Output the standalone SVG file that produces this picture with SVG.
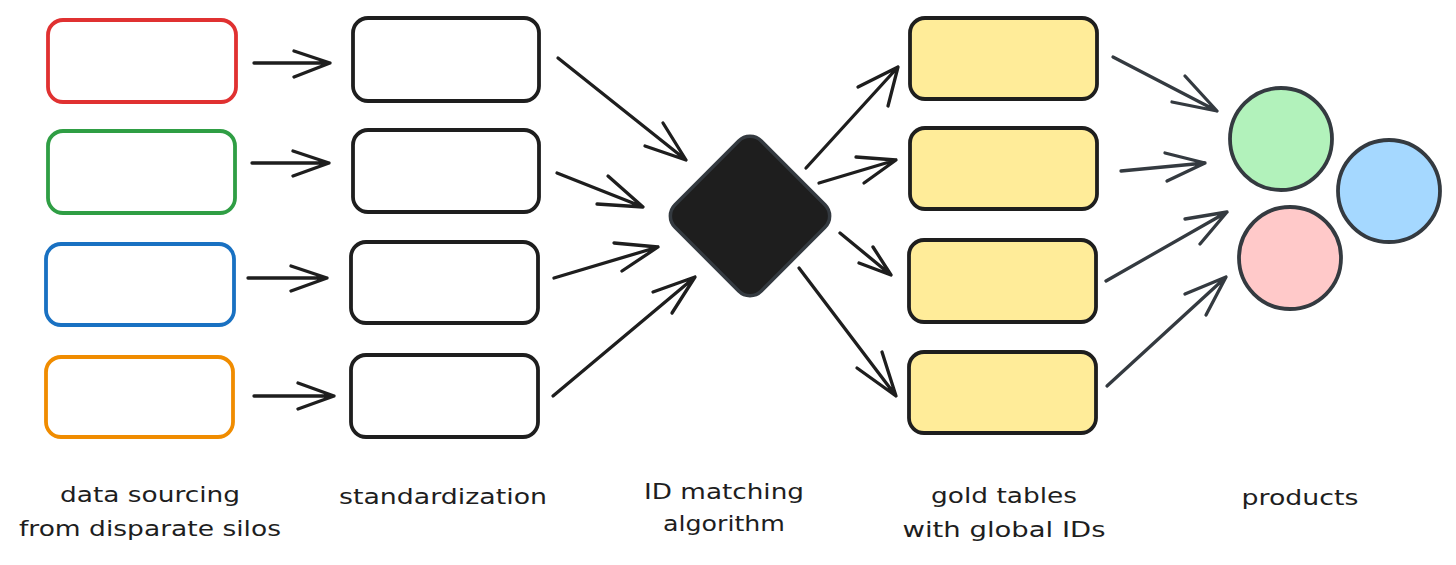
<svg xmlns="http://www.w3.org/2000/svg" width="1456" height="565" viewBox="0 0 1456 565">
<style>
.box{fill:#ffffff;stroke-width:3.8;stroke-linejoin:round}
.std{stroke:#1e1e1e}
.gold{fill:#ffec99;stroke:#1e1e1e}
.circ{stroke:#343a40;stroke-width:3.8}
.arr{fill:none;stroke:#1e1e1e;stroke-width:3.3;stroke-linecap:round;stroke-linejoin:round}
.arr2{stroke:#343a40}
.lbl{font-family:"DejaVu Sans","Liberation Sans",sans-serif;font-size:22px;fill:#1e1e1e;text-anchor:middle}
</style>
<rect width="1456" height="565" fill="#ffffff"/>
<g id="src-red"><rect class="box" x="48" y="20" width="188" height="82" rx="15" stroke="#e03131"/></g>
<g id="src-green"><rect class="box" x="48" y="131" width="187" height="82" rx="15" stroke="#2f9e44"/></g>
<g id="src-blue"><rect class="box" x="46" y="244" width="188" height="81" rx="15" stroke="#1971c2"/></g>
<g id="src-orange"><rect class="box" x="46" y="357" width="187" height="80" rx="15" stroke="#f08c00"/></g>
<g id="std-1"><rect class="box std" x="353" y="18" width="186" height="83" rx="15"/></g>
<g id="std-2"><rect class="box std" x="353" y="130" width="186" height="82" rx="15"/></g>
<g id="std-3"><rect class="box std" x="351" y="242" width="187" height="81" rx="15"/></g>
<g id="std-4"><rect class="box std" x="351" y="355" width="187" height="82" rx="15"/></g>
<g id="id-matching"><rect x="-61" y="-61" width="122" height="122" rx="16" fill="#1e1e1e" stroke="#343a40" stroke-width="3.5" transform="translate(750 216) rotate(45)"/></g>
<g id="gold-1"><rect class="box gold" x="910" y="18" width="187" height="81" rx="15"/></g>
<g id="gold-2"><rect class="box gold" x="910" y="128" width="187" height="81" rx="15"/></g>
<g id="gold-3"><rect class="box gold" x="909" y="240" width="187" height="82" rx="15"/></g>
<g id="gold-4"><rect class="box gold" x="909" y="352" width="187" height="81" rx="15"/></g>
<g id="product-green"><circle class="circ" cx="1281" cy="139" r="51" fill="#b2f2bb"/></g>
<g id="product-blue"><circle class="circ" cx="1389" cy="191" r="51" fill="#a5d8ff"/></g>
<g id="product-red"><circle class="circ" cx="1290" cy="258" r="51" fill="#ffc9c9"/></g>
<g id="connectors">
<path class="arr" d="M254 63 L330 63 M294 51 L330 63 L294 77"/>
<path class="arr" d="M252 163 L329 163 M293 151 L329 163 L293 176"/>
<path class="arr" d="M248 278 L327 278 M291 266 L327 278 L291 291"/>
<path class="arr" d="M254 396 L334 396 M298 383 L334 396 L298 409"/>
<path class="arr" d="M558 58 L686 160 M663 123 L686 160 L645 146"/>
<path class="arr" d="M557 173 L643 207 M608 176 L643 207 L597 204"/>
<path class="arr" d="M554 278 L658 247 M614 243 L658 247 L622 271"/>
<path class="arr" d="M553 396 L695 277 M653 292 L695 277 L672 313"/>
<path class="arr" d="M806 168 L898 67 M858 87 L898 67 L888 106"/>
<path class="arr" d="M819 183 L896 160 M856 157 L896 160 L864 183"/>
<path class="arr" d="M840 233 L891 275 M873 247 L891 275 L859 263"/>
<path class="arr" d="M799 268 L896 396 M882 352 L896 396 L857 368"/>
<path class="arr arr2" d="M1113 57 L1217 111 M1185 76 L1217 111 L1172 102"/>
<path class="arr arr2" d="M1121 171 L1205 163 M1165 153 L1205 163 L1167 181"/>
<path class="arr arr2" d="M1106 281 L1227 212 M1185 219 L1227 212 L1200 244"/>
<path class="arr arr2" d="M1107 386 L1226 277 M1185 294 L1226 277 L1206 315"/>
</g>
<g id="labels">
<text class="lbl" x="150" y="502" textLength="180" lengthAdjust="spacingAndGlyphs">data sourcing</text>
<text class="lbl" x="150" y="536" textLength="262" lengthAdjust="spacingAndGlyphs">from disparate silos</text>
<text class="lbl" x="443" y="504" textLength="208" lengthAdjust="spacingAndGlyphs">standardization</text>
<text class="lbl" x="724" y="499" textLength="160" lengthAdjust="spacingAndGlyphs">ID matching</text>
<text class="lbl" x="724" y="531" textLength="122" lengthAdjust="spacingAndGlyphs">algorithm</text>
<text class="lbl" x="1004" y="503" textLength="146" lengthAdjust="spacingAndGlyphs">gold tables</text>
<text class="lbl" x="1004" y="537" textLength="203" lengthAdjust="spacingAndGlyphs">with global IDs</text>
<text class="lbl" x="1300" y="505" textLength="117" lengthAdjust="spacingAndGlyphs">products</text>
</g>
</svg>
